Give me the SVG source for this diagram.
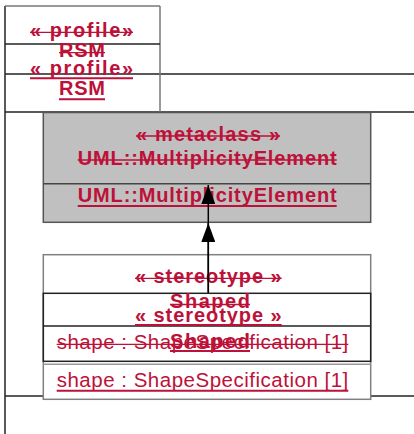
<svg xmlns="http://www.w3.org/2000/svg" width="414" height="434" viewBox="0 0 414 434">
<style>
.t{font-family:"Liberation Sans",Arial,sans-serif;fill:#bc1139;text-anchor:middle}
.b{font-weight:bold;font-size:20px}
.n{font-size:20.5px;text-anchor:start}
.st{stroke:#bc1139;stroke-width:1.3}
.ul{stroke:#bc1139;stroke-width:2}
.ln{stroke:#222;stroke-width:1.5;fill:none}
.gl{stroke:#777;stroke-width:1.5;fill:none}
</style>
<defs>
<marker id="tri" viewBox="0 0 19 14" refX="19" refY="7" markerWidth="19" markerHeight="14" markerUnits="userSpaceOnUse" orient="auto">
<path d="M19,7 L0,0 L0,14 Z" fill="#000"/>
</marker>
</defs>
<g id="frame">
<line class="ln" x1="5" y1="6" x2="5" y2="434"/>
<line class="ln" x1="5" y1="74" x2="414" y2="74"/>
<line class="ln" x1="5" y1="112" x2="414" y2="112"/>
<line class="ln" x1="5" y1="396" x2="414" y2="396"/>
</g>
<g id="profile">
<line class="gl" x1="5" y1="6" x2="160" y2="6"/>
<line class="gl" x1="160" y1="6" x2="160" y2="112"/>
<line class="ln" x1="5" y1="44" x2="160" y2="44"/>
<text class="t b" x="81.5" y="36.5" textLength="103" lengthAdjust="spacing">« profile»</text>
<line class="st" x1="30" y1="32.3" x2="133" y2="32.3"/>
<text class="t b" x="82" y="56.5" textLength="46" lengthAdjust="spacing">RSM</text>
<line class="st" x1="59" y1="52.7" x2="105" y2="52.7"/>
<text class="t b" x="81.5" y="74.5" textLength="103" lengthAdjust="spacing">« profile»</text>
<line class="ul" x1="30" y1="78.3" x2="133" y2="78.3"/>
<text class="t b" x="82" y="95" textLength="46" lengthAdjust="spacing">RSM</text>
<line class="ul" x1="59" y1="99.3" x2="105" y2="99.3"/>
</g>
<g id="metaclass">
<rect x="43.3" y="112.5" width="327.4" height="109.8" fill="#c0c0c0" stroke="#555" stroke-width="1.5"/>
<line x1="43.3" y1="183.7" x2="370.7" y2="183.7" stroke="#444" stroke-width="1.5"/>
<text class="t b" x="208" y="140.5" textLength="144" lengthAdjust="spacing">« metaclass »</text>
<line class="st" x1="136" y1="136" x2="280" y2="136"/>
<text class="t b" x="207.2" y="165" textLength="259" lengthAdjust="spacing">UML::MultiplicityElement</text>
<line class="st" x1="77.7" y1="160" x2="336.7" y2="160"/>
<text class="t b" x="207.2" y="201.7" textLength="259" lengthAdjust="spacing">UML::MultiplicityElement</text>
<line class="ul" x1="77.7" y1="206" x2="336.7" y2="206"/>
</g>
<g id="stereotype">
<rect x="43.3" y="254.7" width="327.4" height="144.6" fill="#fff" stroke="#808080" stroke-width="1.5"/>
<rect x="43.3" y="293.3" width="327.4" height="68" fill="none" stroke="#222" stroke-width="1.5"/>
<line class="ln" x1="43.3" y1="326" x2="370.7" y2="326"/>
<line x1="43.3" y1="364.3" x2="370.7" y2="364.3" stroke="#999" stroke-width="1.5"/>
<text class="t b" x="208.3" y="283.3" textLength="146.7" lengthAdjust="spacing">« stereotype »</text>
<line class="st" x1="135" y1="278.3" x2="281.7" y2="278.3"/>
<text class="t b" x="210" y="308.3" textLength="80" lengthAdjust="spacing">Shaped</text>
<line class="st" x1="170" y1="304.5" x2="250" y2="304.5"/>
<text class="t b" x="208.3" y="321.7" textLength="146.7" lengthAdjust="spacing">« stereotype »</text>
<line class="ul" x1="135" y1="325" x2="281.7" y2="325"/>
<text class="t b" x="210" y="348" textLength="80" lengthAdjust="spacing">Shaped</text>
<line class="ul" x1="170" y1="351" x2="250" y2="351"/>
<text class="t n" x="56.7" y="349.3" textLength="291.6" lengthAdjust="spacing">shape : ShapeSpecification  [1]</text>
<line class="st" x1="56.7" y1="344.3" x2="348.3" y2="344.3"/>
<text class="t n" x="56.7" y="386.7" textLength="291.6" lengthAdjust="spacing">shape : ShapeSpecification  [1]</text>
<line class="ul" x1="56.7" y1="390.7" x2="348.3" y2="390.7"/>
</g>
<g id="connectors">
<line x1="208.3" y1="292.7" x2="208.3" y2="185" stroke="#000" stroke-width="1.5" marker-end="url(#tri)"/>
<line x1="208.3" y1="292.7" x2="208.3" y2="223" stroke="#000" stroke-width="1.5" marker-end="url(#tri)"/>
</g>
</svg>
